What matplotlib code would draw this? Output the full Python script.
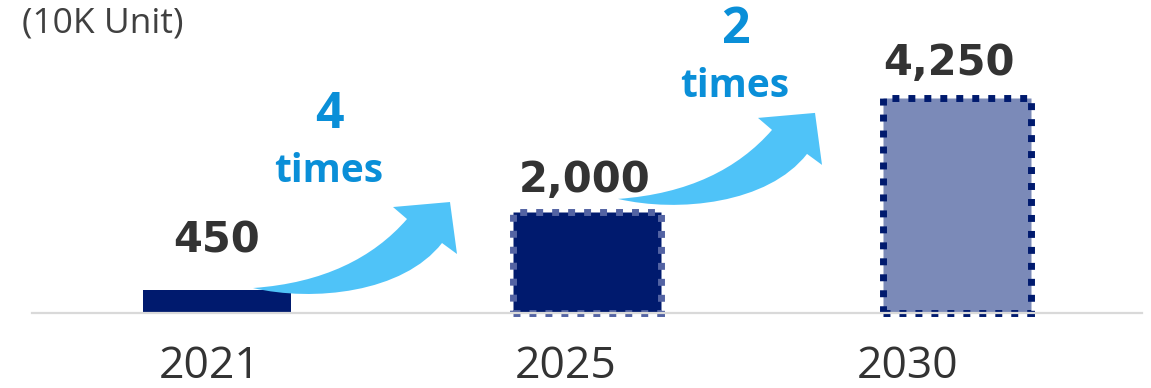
import matplotlib
matplotlib.use("Agg")
import matplotlib.pyplot as plt
from matplotlib.path import Path
from matplotlib.patches import PathPatch
from matplotlib.transforms import Affine2D, ScaledTranslation

# ---- data ----
years = ["2021", "2025", "2030"]
values = [450, 2000, 4250]
value_labels = ["450", "2,000", "4,250"]
growth_numbers = ["4", "2"]
growth_word = "times"
unit_label = "(10K Unit)"

# ---- style ----
plt.rcParams['font.family'] = ['Open Sans', 'DejaVu Sans']
W, H, DPI = 1151, 388, 100
fig = plt.figure(figsize=(W / DPI, H / DPI), dpi=DPI)
ax = fig.add_axes([32 / W, (H - 312.5) / H, (1142 - 32) / W, 312.5 / H])
ax.set_xlim(-0.5, 2.5)
ax.set_ylim(0, 6190)

fills = ["#001A6E", "#001A6E", "#7B8AB8"]
edges = [None, "#5363A3", "#001A6E"]
xpos = list(range(len(years)))
for x, v, fc, ec in zip(xpos, values, fills, edges):
    if ec is None:
        ax.bar(x, v, width=0.4, color=fc, linewidth=0, zorder=2)
    else:
        ax.bar(x, v, width=0.4, color=fc, edgecolor=ec, linewidth=5,
               linestyle=(0, (1, 1.3)), zorder=2, clip_on=False)

# value labels
lab_dy = [37, 20, 23]
lab_dx = [0, -2, -8]
for x, v, t, dy, dx in zip(xpos, values, value_labels, lab_dy, lab_dx):
    ax.annotate(t, (x, v), xytext=(dx, dy), textcoords='offset pixels',
                ha='center', va='baseline', fontsize=30, fontweight='bold',
                family='DejaVu Sans', color='#333333',
                annotation_clip=False, zorder=5)

# axes styling
for s in ['top', 'right', 'left']:
    ax.spines[s].set_visible(False)
ax.spines['bottom'].set_color('#D9D9D9')
ax.spines['bottom'].set_linewidth(1.6)
ax.set_yticks([])
ax.set_xticks(xpos, years)
ax.tick_params(axis='x', length=0, pad=23, labelsize=32, labelcolor='#333333')
tick_dx = [-7, -21, -49]
for lbl, dx in zip(ax.get_xticklabels(), tick_dx):
    lbl.set_transform(lbl.get_transform() + ScaledTranslation(dx / DPI, 0, fig.dpi_scale_trans))

# curved arrows (shape in pixels relative to tail, y downward)
verts = [(0, 0),
         (60, 14), (150, 5), (189, -45),
         (204, -34), (197, -86), (140, -81), (154, -69),
         (120, -30), (70, -5), (0, 0), (0, 0)]
codes = [Path.MOVETO,
         Path.CURVE4, Path.CURVE4, Path.CURVE4,
         Path.LINETO, Path.LINETO, Path.LINETO, Path.LINETO,
         Path.CURVE4, Path.CURVE4, Path.CURVE4, Path.CLOSEPOLY]
arrow_path = Path(verts, codes)
arrow_tails = [(0.0973, 485), (1.0838, 2250)]
for (tx, ty) in arrow_tails:
    tr = Affine2D().scale(DPI / 100, -DPI / 100) + ScaledTranslation(tx, ty, ax.transData)
    ax.add_patch(PathPatch(arrow_path, facecolor='#4FC3F8', edgecolor='none',
                           transform=tr, zorder=3, clip_on=False))

# growth texts
growth_pos = [(0.303, 3653, 2584), (1.40, 5337, 4267)]
for num, (gx, gy1, gy2) in zip(growth_numbers, growth_pos):
    ax.text(gx, gy1, num, ha='center', va='baseline', fontsize=36,
            fontweight='bold', color='#0A8FD8', clip_on=False)
    ax.text(gx, gy2, growth_word, ha='center', va='baseline', fontsize=28,
            fontweight='bold', color='#0A8FD8', clip_on=False)

fig.text(22 / W, 1 - 32 / H, unit_label, ha='left', va='baseline',
         fontsize=25.5, color='#404040')

fig.savefig("out.png", dpi=DPI)
